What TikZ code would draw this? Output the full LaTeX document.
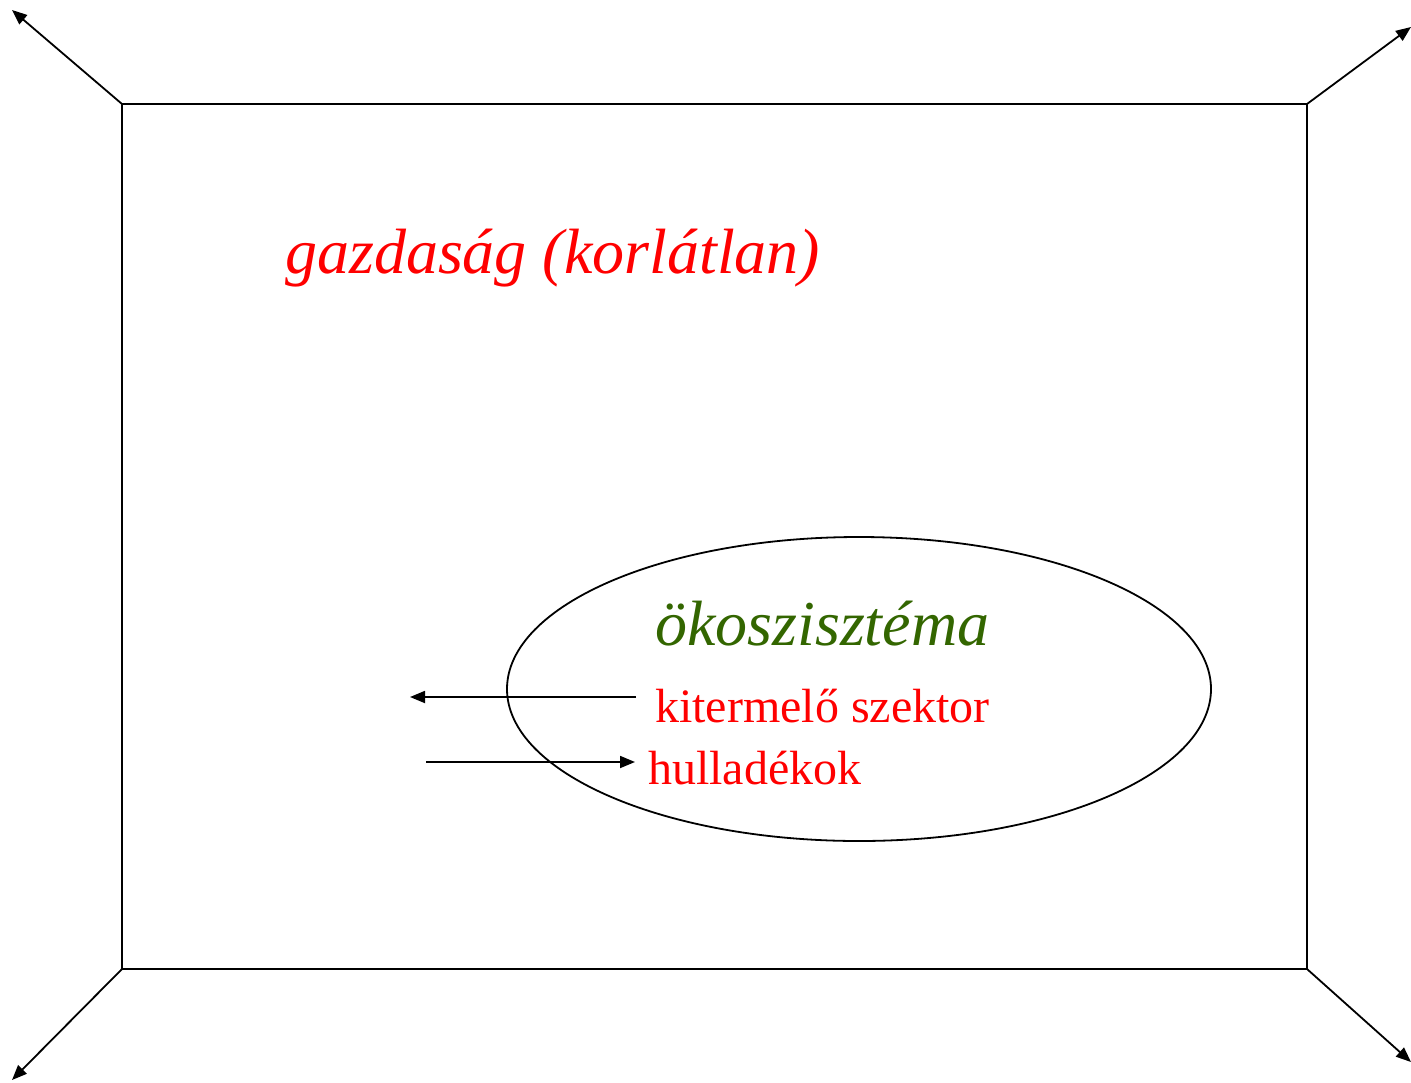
\documentclass[tikz,border=0pt]{standalone}
\usepackage{fontspec}
\setmainfont{Liberation Serif}
\usetikzlibrary{arrows.meta,shapes.geometric}
\definecolor{ecogreen}{RGB}{51,102,0}
\begin{document}
\begin{tikzpicture}[x=1pt,y=-1pt,
  ln/.style={line width=1.8pt,black},
  arr/.style={ln,-{Triangle[length=15pt,width=12pt]}},
  redit/.style={text=red,font=\fontsize{64}{72}\selectfont\itshape,inner sep=0pt,anchor=base west},
  greenit/.style={text=ecogreen,font=\fontsize{64}{72}\selectfont\itshape,inner sep=0pt,anchor=base west},
  redup/.style={text=red,font=\fontsize{48}{56}\selectfont,inner sep=0pt,anchor=base west}]
\useasboundingbox (0,0) rectangle (1411,1082);
\coordinate (tl) at (122,104);
\coordinate (tr) at (1307,104);
\coordinate (bl) at (122,969);
\coordinate (br) at (1307,969);
\coordinate (etl) at (12,10);
\coordinate (etr) at (1411,27);
\coordinate (ebl) at (12,1080);
\coordinate (ebr) at (1411,1062);
\draw[ln] (tl) -- (tr) -- (br) -- (bl) -- cycle;
\draw[arr] (tl) -- (etl);
\draw[arr] (tr) -- (etr);
\draw[arr] (bl) -- (ebl);
\draw[arr] (br) -- (ebr);
\node[ellipse,draw,line width=1.8pt,minimum width=704pt,minimum height=304pt,inner sep=0pt] (eco) at (859,689) {};
\node[redit] (gaz) at (285,273) {gazdaság (korlátlan)};
\node[greenit] (oko) at (655,645) {ökoszisztéma};
\node[redup] (kit) at (655,722) {kitermelő szektor};
\node[redup] (hul) at (648,784) {hulladékok};
\coordinate (a1s) at (636,697);
\coordinate (a1e) at (410,697);
\coordinate (a2s) at (426,762);
\coordinate (a2e) at (635,762);
\draw[arr] (a1s) -- (a1e);
\draw[arr] (a2s) -- (a2e);
\end{tikzpicture}
\end{document}
